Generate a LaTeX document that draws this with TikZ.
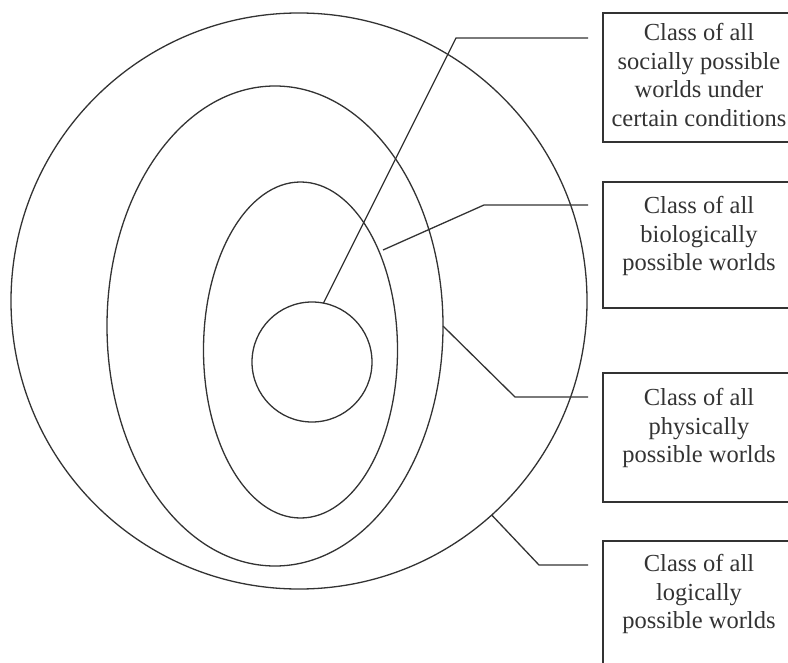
\documentclass[tikz,border=0pt]{standalone}
\usepackage{fontspec}
\setmainfont{Liberation Serif}
\usetikzlibrary{shapes.geometric}
\definecolor{ink}{HTML}{333333}
\tikzset{
  ring/.style={draw=ink, line width=1.3bp, inner sep=0pt, outer sep=0pt},
  lead/.style={draw=ink, line width=1.3bp, line join=miter},
  boxshape/.style={draw=ink, line width=1.6bp, rectangle, inner sep=0pt, outer sep=0pt, minimum width=192bp},
  lbl/.style={text=ink, align=center, inner sep=0pt, font=\fontsize{24.5bp}{28.7bp}\selectfont}
}
\begin{document}
\begin{tikzpicture}[x=1bp,y=-1bp]
\useasboundingbox (0,0) rectangle (788,663);
% nested classes
\node[ring, circle, minimum size=576bp] (c1) at (299,301) {};
\node[ring, ellipse, minimum width=336bp, minimum height=480bp] (e2) at (275,326) {};
\node[ring, ellipse, minimum width=194bp, minimum height=336bp] (e3) at (300.5,350) {};
\node[ring, circle, minimum size=120bp] (c4) at (312,362) {};
% boxes
\node[boxshape, minimum height=129bp] (b1) at (699,77.5) {};
\node[boxshape, minimum height=126bp] (b2) at (699,245) {};
\node[boxshape, minimum height=129bp] (b3) at (699,437.5) {};
\node[boxshape, minimum height=127bp] (b4) at (699,604.5) {};
% labels
\node[lbl] (t1) at (699,75) {Class of all\\socially possible\\worlds under\\certain conditions};
\node[lbl] (t2) at (699,236) {Class of all\\biologically\\possible worlds};
\node[lbl] (t3) at (699,428) {Class of all\\physically\\possible worlds};
\node[lbl] (t4) at (699,594) {Class of all\\logically\\possible worlds};
% leader lines
\coordinate (s1) at (588,38);  \coordinate (k1) at (456,38);
\coordinate (s2) at (588,205); \coordinate (k2) at (484,205); \coordinate (p2) at (383,250);
\coordinate (s3) at (588,397); \coordinate (k3) at (515,397);
\coordinate (s4) at (588,565); \coordinate (k4) at (539,565);
\draw[lead] (s1) -- (k1) -- (c4.79);
\draw[lead] (s2) -- (k2) -- (p2);
\draw[lead] (s3) -- (k3) -- (e2.east);
\draw[lead] (s4) -- (k4) -- (c1.-48.4);
\end{tikzpicture}
\end{document}
